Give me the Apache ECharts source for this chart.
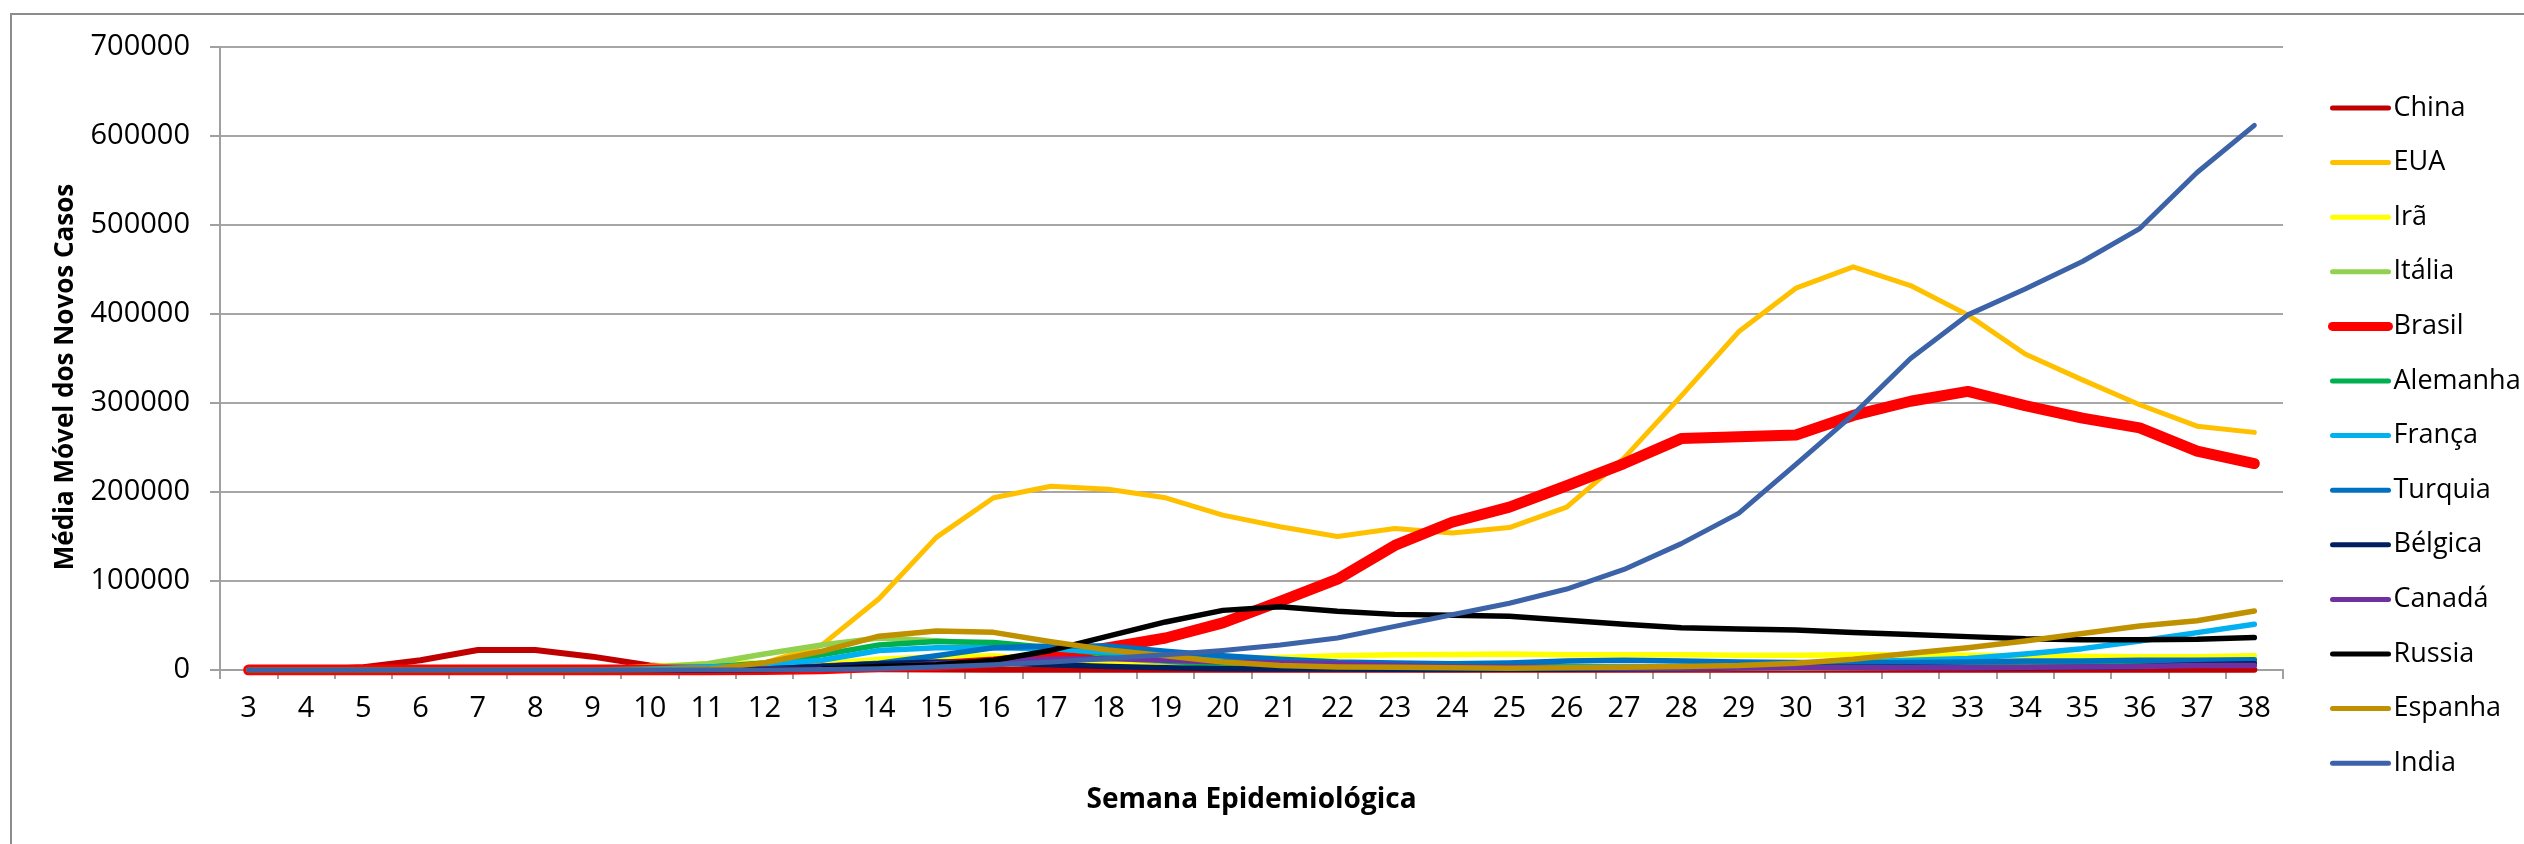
<!DOCTYPE html>
<html>
<head>
    <meta charset="utf-8">
    <title>Média Móvel dos Novos Casos</title>
    <script src="https://cdn.jsdelivr.net/npm/echarts@6.0.0/dist/echarts.min.js"></script>
    <style>
        html, body { margin: 0; padding: 0; background: #fff; }
        #chart { width: 2524px; height: 844px; }
    </style>
</head>
<body>
    <div id="chart"></div>
    <script>
        // Semanas epidemiológicas 3..38
        const weeks = ['3','4','5','6','7','8','9','10','11','12','13','14','15','16','17','18','19','20',
                       '21','22','23','24','25','26','27','28','29','30','31','32','33','34','35','36','37','38'];

        // valores (casos por semana)
        const china    = [0, 300, 3000, 11000, 22500, 22500, 15000, 5000, 1500, 1000, 1000, 800, 500, 300, 200, 200, 150, 150,
                          150, 150, 150, 150, 150, 150, 150, 150, 150, 150, 150, 150, 150, 150, 150, 150, 150, 150];
        const eua      = [0, 0, 0, 0, 0, 0, 0, 100, 1500, 8000, 28000, 80000, 149000, 193500, 206500, 203000, 193500, 174000,
                          161000, 150000, 159000, 154000, 160000, 183000, 238000, 308000, 380000, 429000, 453000, 432000, 399000, 355000, 326000, 298000, 274000, 267000];
        const ira      = [0, 0, 0, 0, 0, 0, 500, 4000, 7000, 8000, 7000, 12000, 15000, 16000, 11000, 8000, 8000, 12000,
                          14000, 16000, 17000, 17500, 18000, 17000, 17000, 17000, 16500, 16500, 17000, 17000, 16500, 16000, 15500, 15000, 15000, 16000];
        const italia   = [0, 0, 0, 0, 0, 0, 500, 3000, 7000, 18000, 28000, 36000, 33000, 29000, 22000, 14000, 9000, 6000,
                          4000, 2500, 2000, 1800, 1500, 1500, 1500, 1800, 2000, 2000, 2500, 3000, 4500, 7000, 9000, 10000, 10000, 11000];
        const brasil   = [0, 0, 0, 0, 0, 0, 0, 0, 0, 500, 1500, 4000, 5000, 9000, 15000, 25000, 36000, 53000,
                          77000, 102000, 140000, 166000, 183000, 207000, 232000, 260000, 262000, 264000, 286000, 302000, 313000, 297000, 283000, 272000, 246000, 232000];
        const alemanha = [0, 0, 0, 0, 0, 0, 0, 500, 3000, 8000, 17000, 28000, 32000, 31000, 25000, 18000, 10000, 6000,
                          4500, 4000, 3500, 3000, 3500, 4000, 3500, 3500, 4000, 5000, 6000, 7000, 8000, 9000, 9000, 8500, 9000, 9500];
        const franca   = [0, 0, 0, 0, 0, 0, 0, 1000, 3000, 6000, 11000, 22000, 25000, 25000, 24000, 20000, 16000, 13000,
                          9000, 6000, 4000, 3000, 3000, 3000, 3500, 4000, 5000, 7000, 9000, 11000, 13000, 18000, 24000, 32500, 42000, 51500];
        const turquia  = [0, 0, 0, 0, 0, 0, 0, 0, 100, 1000, 4000, 7500, 16000, 25000, 27000, 27000, 21000, 16000,
                          12000, 9000, 8000, 7000, 8000, 10000, 11000, 10000, 9000, 8500, 8000, 8500, 9000, 10000, 10000, 11000, 11000, 11500];
        const belgica  = [0, 0, 0, 0, 0, 0, 0, 100, 500, 1000, 4000, 7000, 9000, 8000, 6000, 4000, 2500, 1500,
                          1000, 1000, 800, 700, 800, 900, 1000, 1500, 2500, 3000, 3000, 3000, 2500, 2500, 3000, 4000, 6000, 7000];
        const canada   = [0, 0, 0, 0, 0, 0, 0, 0, 300, 1000, 1000, 3000, 7000, 10000, 12000, 13000, 11000, 9000,
                          8000, 7000, 5000, 3500, 3000, 2500, 2000, 2000, 2500, 2500, 2500, 2500, 2500, 3000, 3500, 4000, 5000, 5000];
        const russia   = [0, 0, 0, 0, 0, 0, 0, 0, 0, 300, 1000, 4000, 6000, 11000, 22000, 38000, 54000, 67000,
                          71000, 66000, 62500, 61500, 60500, 56000, 51500, 47500, 46000, 45000, 42000, 40000, 37500, 35000, 34000, 34000, 34500, 36500];
        const espanha  = [0, 0, 0, 0, 0, 0, 0, 300, 1000, 8000, 21000, 38000, 43800, 42300, 31800, 22500, 16000, 9000,
                          5000, 3500, 3000, 2500, 2000, 2500, 3000, 4000, 5000, 7500, 12000, 18700, 25000, 32600, 41000, 49400, 55400, 66300];
        const india    = [0, 0, 0, 0, 0, 0, 0, 0, 0, 100, 500, 1500, 3500, 6000, 9000, 13000, 17000, 22000,
                          28000, 36000, 49000, 62000, 75000, 91000, 113000, 142000, 176000, 231000, 287000, 350000, 399000, 428000, 459000, 496000, 559000, 612000];

        const countries = ['China', 'EUA', 'Irã', 'Itália', 'Brasil', 'Alemanha', 'França', 'Turquia', 'Bélgica', 'Canadá', 'Russia', 'Espanha', 'India'];
        const values    = [china, eua, ira, italia, brasil, alemanha, franca, turquia, belgica, canada, russia, espanha, india];
        const colors    = ['#C00000', '#FFC000', '#FFFF00', '#92D050', '#FF0000', '#00B050', '#00B0F0', '#0070C0', '#002060', '#7030A0', '#000000', '#BF9000', '#3C62A8'];
        const widths    = [6, 5, 5.5, 5.5, 11, 5.5, 5.5, 5.5, 5.5, 5.5, 5.5, 5.5, 5];

        const chart = echarts.init(document.getElementById('chart'), null, { renderer: 'canvas' });

        const font = "'Open Sans', 'DejaVu Sans', sans-serif";

        chart.setOption({
            animation: false,
            backgroundColor: '#ffffff',
            textStyle: { fontFamily: font },
            grid: { left: 220, right: 241, top: 47, bottom: 174, containLabel: false },
            legend: {
                orient: 'vertical',
                left: 2323,
                top: 88,
                itemWidth: 56,
                itemHeight: 2,
                itemGap: 24.6,
                selectedMode: false,
                itemStyle: { opacity: 0 },
                textStyle: { fontFamily: font, fontSize: 27, color: '#000', lineHeight: 30, padding: [0, 0, 0, 0] },
                data: countries.map((c, i) => ({
                    name: c,
                    lineStyle: { width: c === 'Brasil' ? 9 : 5, color: colors[i], cap: 'round' }
                }))
            },
            xAxis: {
                type: 'category',
                data: weeks,
                boundaryGap: true,
                name: 'Semana Epidemiológica',
                nameLocation: 'middle',
                nameGap: 116,
                nameTextStyle: { fontFamily: font, fontSize: 28, fontWeight: 'bold', color: '#000' },
                axisLine: { lineStyle: { color: '#A0A0A0', width: 2 } },
                axisTick: { show: true, interval: 0, length: 9, lineStyle: { color: '#A0A0A0', width: 2 } },
                axisLabel: { interval: 0, fontSize: 29, color: '#000', margin: 24, fontFamily: font },
                splitLine: { show: false }
            },
            yAxis: {
                type: 'value',
                min: 0,
                max: 700000,
                interval: 100000,
                axisLine: { show: true, lineStyle: { color: '#A0A0A0', width: 2 } },
                axisTick: { show: true, length: 10, lineStyle: { color: '#A0A0A0', width: 2 } },
                axisLabel: { fontSize: 29, color: '#000', margin: 30, fontFamily: font, formatter: v => String(v) },
                splitLine: { show: true, lineStyle: { color: '#A6A6A6', width: 2 } }
            },
            graphic: [
                {
                    type: 'rect',
                    silent: true,
                    shape: { x: 11, y: 14, width: 2700, height: 1000 },
                    style: { fill: 'none', stroke: '#8C8C8C', lineWidth: 2 }
                },
                {
                    type: 'text',
                    silent: true,
                    x: 66,
                    y: 377,
                    rotation: Math.PI / 2,
                    style: {
                        text: 'Média Móvel dos Novos Casos',
                        fontFamily: font,
                        fontSize: 26,
                        fontWeight: 'bold',
                        fill: '#000',
                        align: 'center',
                        verticalAlign: 'middle'
                    }
                }
            ],
            series: countries.map((c, i) => ({
                name: c,
                type: 'line',
                data: values[i],
                symbol: 'none',
                smooth: false,
                color: colors[i],
                lineStyle: { color: colors[i], width: widths[i], cap: 'round', join: 'round' }
            }))
        });
    </script>
</body>
</html>
